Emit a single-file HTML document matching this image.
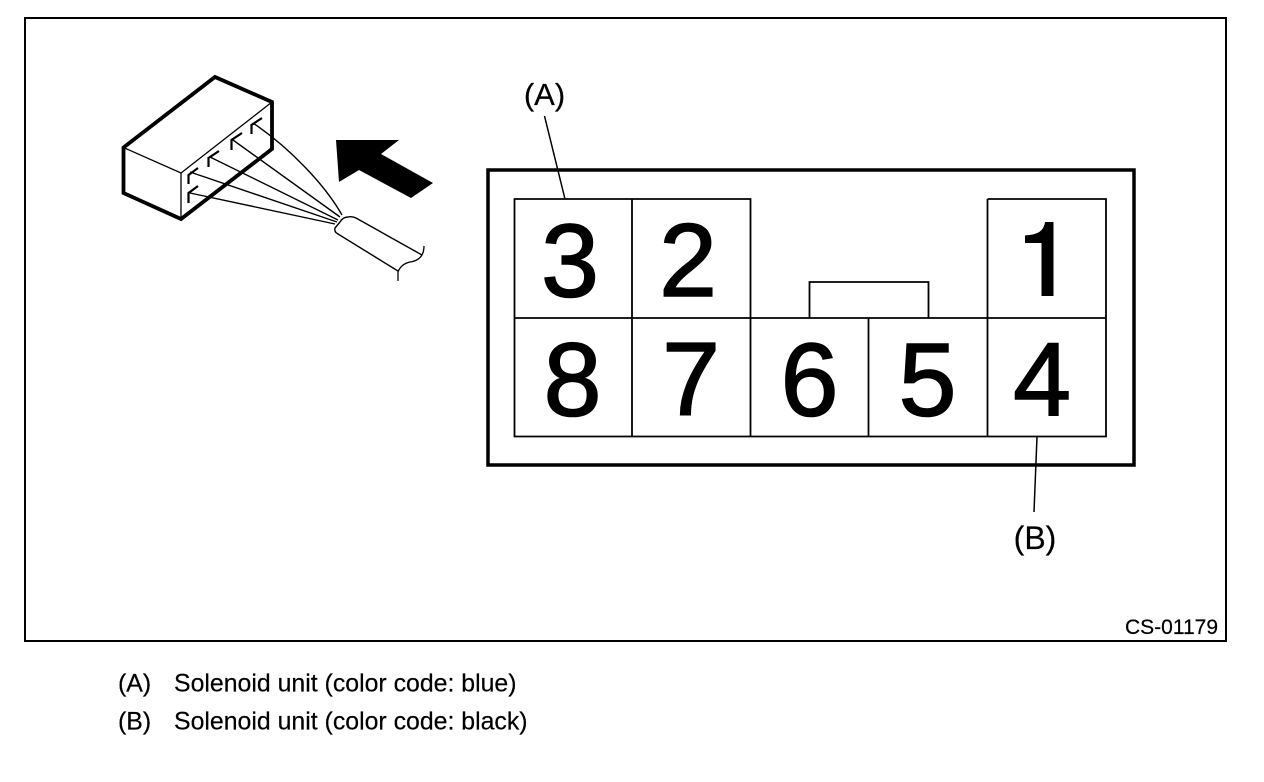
<!DOCTYPE html>
<html><head><meta charset="utf-8"><style>
html,body{margin:0;padding:0;background:#fff}
svg{display:block}
text{font-family:"Liberation Sans",sans-serif;fill:#000}
</style></head><body>
<svg width="1264" height="782" viewBox="0 0 1264 782" xmlns="http://www.w3.org/2000/svg">
<defs><clipPath id="one"><path d="M1053.500 222H1045C1044 232 1036 235 1025 235.500V243H1041.500V296H1053.500Z"/></clipPath></defs>
<rect x="25" y="18" width="1201" height="623" fill="none" stroke="#000" stroke-width="2"/>
<g fill="none" stroke="#000" stroke-linejoin="miter">
<path d="M123.500 147.500L215 77L272 102V149L181 219L123.500 193Z" stroke-width="3.800"/>
<path d="M123.500 147.500L181 173L272 102M181 173V219" stroke-width="1.300"/>
<path d="M198 168L188.500 175V184M198 186L188.500 193V203M219 151L208.500 158V167M242 133L231.500 140V150M262 118L251.500 125V134" stroke-width="2.200"/>
<path d="M190 172L337 222M190 193L335 224M210 157L338 220M233 140L340 217M253 123C290 148 325 185 342 215" stroke-width="1.400"/>
<path d="M340 222Q343 217 348 217Q352 216 356 218L422 255M340 222L335 228Q334 232 338 234L398 271" stroke-width="1.400"/>
<path d="M398 281V272Q401 264 410 262Q424 260 424 246" stroke-width="1.300"/>
</g>
<path d="M336 140L399 140L381 154L433 183L411 198L359 170L339 182Z" fill="#000"/>
<g fill="none" stroke="#000">
<rect x="488" y="170" width="646" height="295" stroke-width="3.500"/>
<path d="M514.500 199H750.500V436.500H514.500ZM632 199V436.500M514.500 318H1106M868.500 318V436.500M987.500 199H1106V436.500H750.500M987.500 199V436.500M809.500 318V282H928.500V318" stroke-width="1.800"/>
<path d="M544.500 116L565 199M1037 436.500L1034 512" stroke-width="1.500"/>
</g>
<g font-size="104" text-anchor="middle" stroke="#000" stroke-width="1.600">
<text x="570" y="296.500">3</text><text x="688" y="296">2</text>
<text x="572.500" y="415.500">8</text><text x="691" y="415">7</text><text x="809.500" y="415.500">6</text><text x="927.500" y="415.500">5</text><text x="1042" y="415">4</text>
</g>
<path d="M1053.500 222H1045C1044 232 1036 235 1025 235.500V243H1041.500V296H1053.500Z" fill="#000"/>
<text x="1040" y="296" font-size="104" text-anchor="middle" clip-path="url(#one)">1</text>
<g text-anchor="middle" stroke="#000" stroke-width=".2">
<text x="544.500" y="105" font-size="31">(A)</text>
<text x="1035" y="549" font-size="32">(B)</text>
</g>
<text x="1125" y="634" font-size="21" stroke="#000" stroke-width=".2">CS-01179</text>
<g font-size="24.850" stroke="#000" stroke-width=".2">
<text x="118" y="691.500">(A)</text>
<text x="174" y="691.500">Solenoid unit (color code: blue)</text>
<text x="118" y="729.500">(B)</text>
<text x="174" y="729.500">Solenoid unit (color code: black)</text>
</g>
</svg>
</body></html>
